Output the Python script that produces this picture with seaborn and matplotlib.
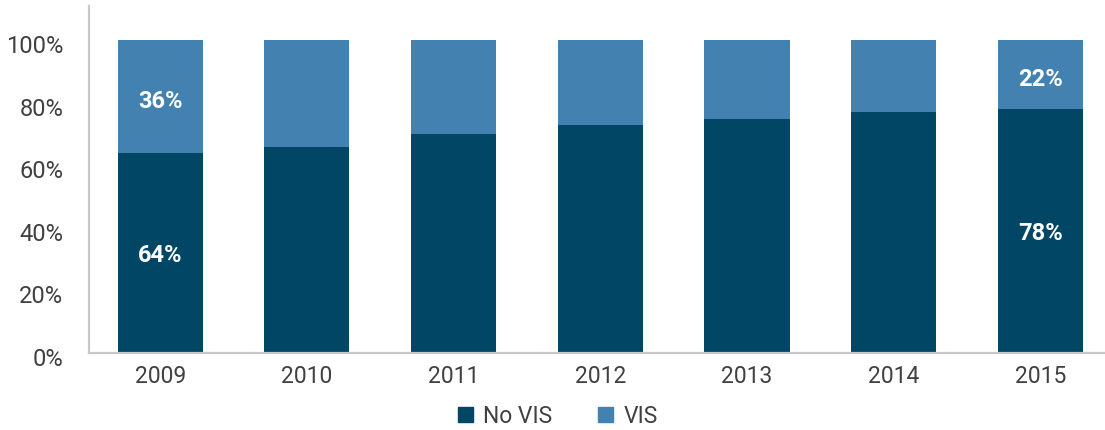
import matplotlib
matplotlib.use("Agg")
import matplotlib.pyplot as plt
import matplotlib.transforms as mtransforms
import seaborn as sns
import pandas as pd
from matplotlib.patches import Patch

years = ["2009", "2010", "2011", "2012", "2013", "2014", "2015"]
no_vis = [64, 66, 70, 73, 75, 77, 78]
vis = [36, 34, 30, 27, 25, 23, 22]
labels_no_vis = ["64%", "", "", "", "", "", "78%"]
labels_vis = ["36%", "", "", "", "", "", "22%"]
yticks = [0, 20, 40, 60, 80, 100]
ytick_labels = ["0%", "20%", "40%", "60%", "80%", "100%"]

dark = "#024666"
light = "#4382b0"
text_c = "#404040"
spine_c = "#c8c8c8"

sns.set_style("white")
plt.rcParams["font.family"] = ["Roboto", "DejaVu Sans"]

df = pd.DataFrame({"year": years, "no_vis": no_vis,
                   "total": [a + b for a, b in zip(no_vis, vis)]})

fig = plt.figure(figsize=(11.05, 4.31), dpi=100)
ax = fig.add_axes([89 / 1105, 77 / 431, 1 - 89 / 1105, (354 - 7) / 431])

sns.barplot(data=df, x="year", y="total", color=light, width=0.58,
            saturation=1, linewidth=0, ax=ax)
sns.barplot(data=df, x="year", y="no_vis", color=dark, width=0.58,
            saturation=1, linewidth=0, ax=ax)

for i, (nv, v) in enumerate(zip(no_vis, vis)):
    if labels_no_vis[i]:
        ax.text(i, nv / 2 - 0.6, labels_no_vis[i], ha="center", va="center",
                color="white", fontsize=17, fontweight="bold")
    if labels_vis[i]:
        ax.text(i, nv + v / 2 - 1.2, labels_vis[i], ha="center", va="center",
                color="white", fontsize=17, fontweight="bold")

ax.set_ylim(0, 111)
ax.set_xlim(-0.485, 6.44)
ax.set_yticks(yticks)
ax.set_yticklabels(ytick_labels)
ax.set_xlabel("")
ax.set_ylabel("")
ax.tick_params(axis="both", length=0, labelcolor=text_c)
ax.tick_params(axis="y", labelsize=17, pad=18.5)
ax.tick_params(axis="x", labelsize=16.5, pad=8)
offset = mtransforms.ScaledTranslation(0, -3 / 100, fig.dpi_scale_trans)
for lbl in ax.get_yticklabels():
    lbl.set_transform(lbl.get_transform() + offset)
for s in ["top", "right"]:
    ax.spines[s].set_visible(False)
for s in ["left", "bottom"]:
    ax.spines[s].set_color(spine_c)
    ax.spines[s].set_linewidth(1.6)

handles = [Patch(color=dark, label="No VIS"), Patch(color=light, label="VIS")]
fig.legend(handles=handles, loc="center", bbox_to_anchor=(0.505, 0.033),
           ncol=2, frameon=False, fontsize=16.5, labelcolor=text_c,
           handlelength=0.65, handleheight=0.65, handletextpad=0.45,
           columnspacing=2.0)

fig.savefig("out.png", dpi=100)
